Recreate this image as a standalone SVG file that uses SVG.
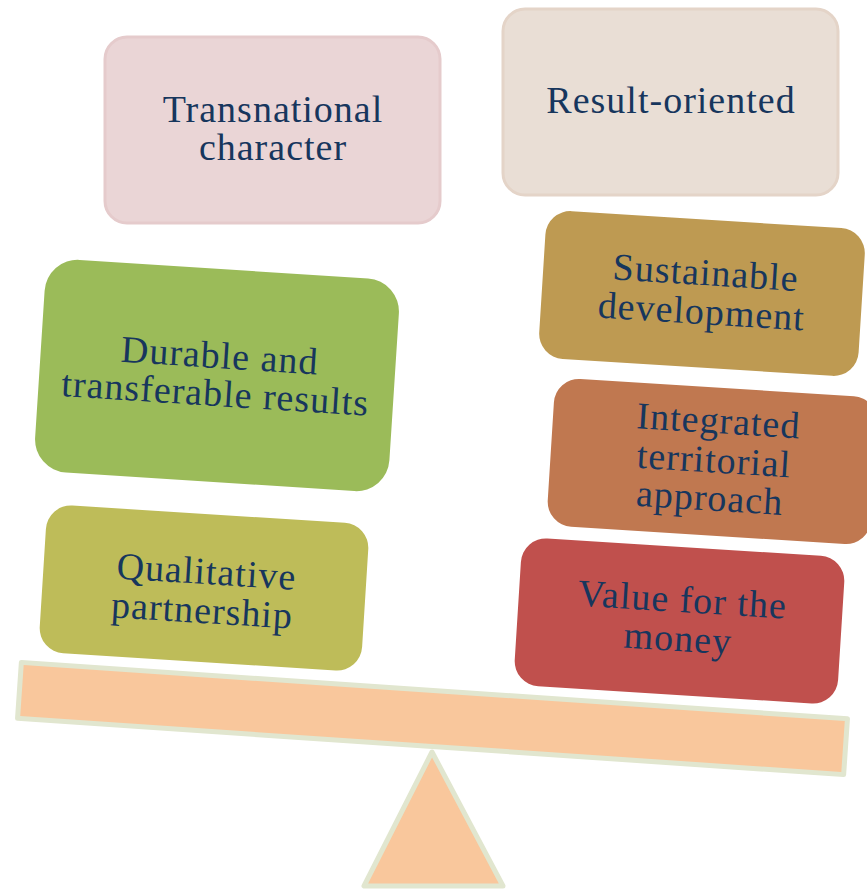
<svg xmlns="http://www.w3.org/2000/svg" width="867" height="889" viewBox="0 0 867 889">
<style>
.t{font-family:"Liberation Serif","Times New Roman",serif;font-size:38px;letter-spacing:1px;fill:#17365D;text-anchor:middle}
.beam{fill:#F9C79C;stroke:#E1E6CF;stroke-width:5;stroke-linejoin:round}
</style>
<rect width="867" height="889" fill="#FFFFFF"/>
<g id="fulcrum">
<polygon class="beam" points="432,752 364,886 503,886"/>
</g>
<g id="beam">
<rect class="beam" x="-414" y="-28" width="828" height="56" transform="translate(432.5,718.5) rotate(3.9)"/>
</g>
<g id="transnational">
<rect x="105" y="37" width="335" height="186" rx="22" fill="#EAD5D6" stroke="#E5CBCC" stroke-width="3"/>
<text class="t" x="273" y="122">Transnational</text>
<text class="t" x="273" y="160">character</text>
</g>
<g id="result-oriented">
<rect x="503" y="9" width="335" height="186" rx="22" fill="#E9DED5" stroke="#E4D4C8" stroke-width="3"/>
<text class="t" x="671" y="113">Result-oriented</text>
</g>
<g id="durable" transform="translate(217,375.5) rotate(3.7)">
<rect x="-177.5" y="-106.5" width="355" height="213" rx="33" fill="#9BBB59"/>
<text class="t" x="1.5" y="-7.5">Durable and</text>
<text class="t" x="-0.5" y="30.5">transferable results</text>
</g>
<g id="qualitative" transform="translate(204,588) rotate(3.6)">
<rect x="-161.5" y="-74" width="323" height="148" rx="25" fill="#BEBC59"/>
<text class="t" x="1.5" y="-4">Qualitative</text>
<text class="t" x="-0.5" y="35">partnership</text>
</g>
<g id="sustainable" transform="translate(702,293.5) rotate(3.6)">
<rect x="-160" y="-74" width="320" height="148" rx="25" fill="#BE9A52"/>
<text class="t" x="2.5" y="-8.5">Sustainable</text>
<text class="t" x="0.5" y="30.5">development</text>
</g>
<g id="integrated" transform="translate(712.5,461.5) rotate(3.6)">
<rect x="-162" y="-74" width="324" height="148" rx="25" fill="#C07850"/>
<text class="t" x="3.5" y="-28.5">Integrated</text>
<text class="t" x="1.5" y="11">territorial</text>
<text class="t" x="-0.5" y="49">approach</text>
</g>
<g id="value" transform="translate(679.5,621) rotate(3.6)">
<rect x="-162" y="-74" width="324" height="148" rx="25" fill="#C0504D"/>
<text class="t" x="1.5" y="-9">Value for the</text>
<text class="t" x="-0.5" y="30">money</text>
</g>
<g id="connectors"></g>
</svg>
